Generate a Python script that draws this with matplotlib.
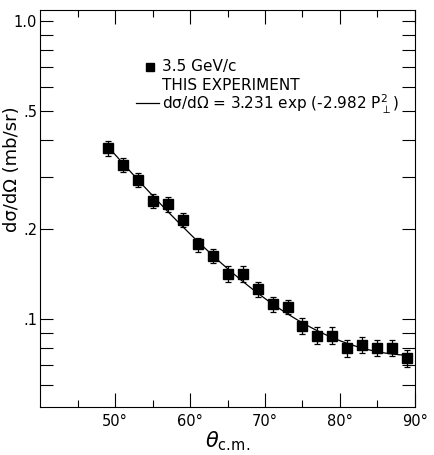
import numpy as np
import matplotlib
matplotlib.use("Agg")
import matplotlib.pyplot as plt
from matplotlib.ticker import FixedLocator, NullFormatter

plt.rcParams['font.family'] = ['DejaVu Sans']
plt.rcParams['mathtext.fontset'] = 'dejavusans'

# measured points (3.5 GeV/c)
theta = [49, 51, 53, 55, 57, 59, 61, 63, 65, 67, 69,
         71, 73, 75, 77, 79, 81, 83, 85, 87, 89]
dsig = [0.374, 0.329, 0.293, 0.249, 0.243, 0.215, 0.178, 0.163, 0.142, 0.142, 0.126,
        0.112, 0.110, 0.095, 0.088, 0.088, 0.080, 0.082, 0.080, 0.080, 0.074]
rel_err = [0.055, 0.055, 0.055, 0.055, 0.055, 0.055, 0.055, 0.055, 0.06, 0.06, 0.06,
           0.06, 0.055, 0.06, 0.065, 0.065, 0.065, 0.06, 0.06, 0.06, 0.065]

# fit: dsig/dOmega = A exp(-B P_perp^2), P_perp = p_cm sin(theta)
A, B = 3.231, 2.982
p_beam, m_p = 3.5, 0.938
E_lab = np.sqrt(p_beam**2 + m_p**2)
s = 2 * m_p**2 + 2 * m_p * E_lab
p_cm = np.sqrt(s / 4 - m_p**2)

y_major = [0.1, 0.2, 0.5, 1.0]
y_major_labels = ['.1', '.2', '.5', '1.0']
y_minor = [0.06, 0.07, 0.08, 0.09, 0.3, 0.4, 0.6, 0.7, 0.8, 0.9]
x_major = [50, 60, 70, 80, 90]
x_minor = [45, 55, 65, 75, 85]

fig = plt.figure(figsize=(4.35, 4.55), dpi=100)
ax = fig.add_axes([0.092, 0.1055, 0.862, 0.8725])

dsig = np.array(dsig)
yerr = dsig * np.array(rel_err)
ax.errorbar(theta, dsig, yerr=yerr, fmt='s', color='black', ms=6.5,
            elinewidth=0.9, capsize=2.5, capthick=0.9, zorder=3)

th = np.linspace(theta[0], theta[-1], 200)
pperp = p_cm * np.sin(np.radians(th))
ax.plot(th, A * np.exp(-B * pperp**2), color='black', lw=0.9)

ax.set_yscale('log')
ax.set_xlim(40, 90)
ax.set_ylim(0.0507, 1.09)

ax.yaxis.set_major_locator(FixedLocator(y_major))
ax.set_yticklabels(y_major_labels)
ax.yaxis.set_minor_locator(FixedLocator(y_minor))
ax.yaxis.set_minor_formatter(NullFormatter())
ax.xaxis.set_major_locator(FixedLocator(x_major))
ax.set_xticklabels([f'{v}°' for v in x_major])
ax.xaxis.set_minor_locator(FixedLocator(x_minor))

ax.tick_params(axis='both', which='both', direction='in', top=True, right=True,
               width=0.8, labelsize=10.5)
ax.tick_params(axis='y', which='both', length=9.5, pad=2)
ax.tick_params(axis='x', which='major', length=10, pad=5)
ax.tick_params(axis='x', which='minor', length=5)
for sp in ax.spines.values():
    sp.set_linewidth(0.8)

ax.set_ylabel('dσ/dΩ (mb/sr)', fontsize=13, va='center')
ax.yaxis.set_label_coords(-0.074, 0.60)
ax.set_xlabel(r'$\theta_{\rm c.\!m.}$', fontsize=15, labelpad=0)

# key
ax.plot([0.293], [0.856], 's', color='black', ms=6, transform=ax.transAxes)
ax.plot([0.256, 0.318], [0.766, 0.766], color='black', lw=0.9, transform=ax.transAxes)
ax.text(0.325, 0.858, '3.5 GeV/c', transform=ax.transAxes, fontsize=11, va='center')
ax.text(0.325, 0.811, 'THIS EXPERIMENT', transform=ax.transAxes, fontsize=11, va='center')
ax.text(0.325, 0.763, r'dσ/dΩ = 3.231 exp (-2.982 P$_{\perp}^{2}$)',
        transform=ax.transAxes, fontsize=11, va='center')

fig.savefig('out.png', dpi=100)
